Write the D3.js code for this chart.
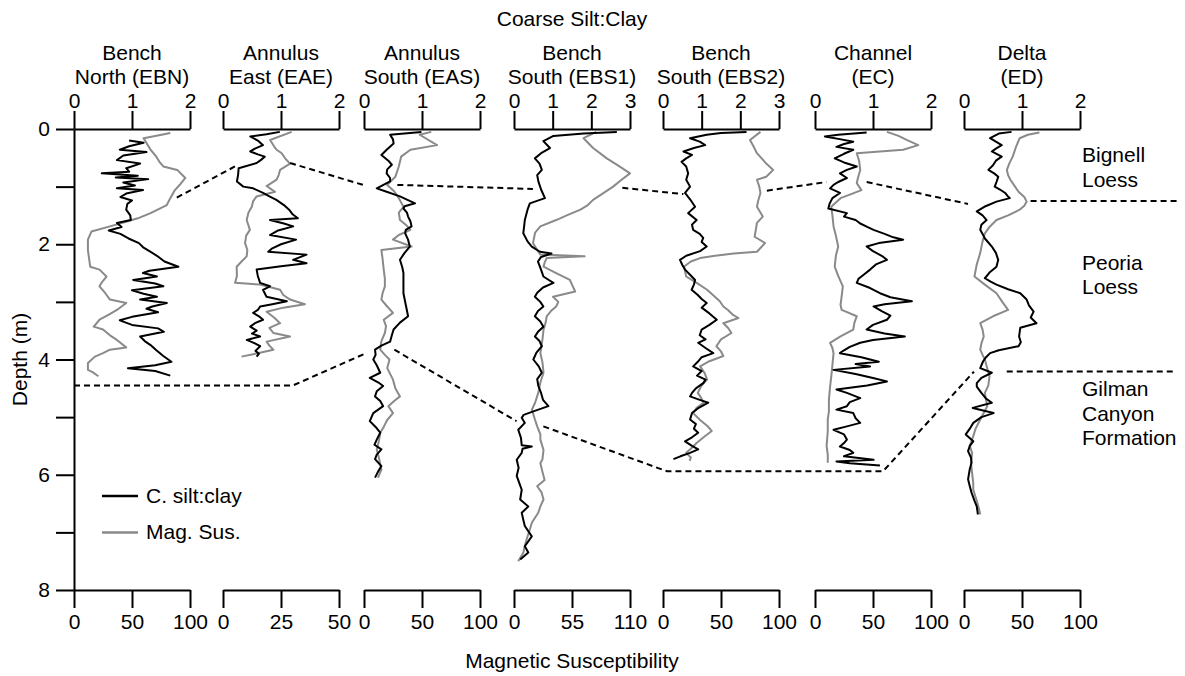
<!DOCTYPE html>
<html>
<head>
<meta charset="utf-8">
<script src="https://cdn.jsdelivr.net/npm/d3@7"></script>
<style>
  body { margin: 0; background: #fff; }
  text { font-family: "Liberation Sans", Arial, sans-serif; }
</style>
</head>
<body>
<svg width="1185" height="676"></svg>
<script>
// core titles, scale limits and tick values for each column
const coreTitles = [["Bench", "North (EBN)"], ["Annulus", "East (EAE)"], ["Annulus", "South (EAS)"],
  ["Bench", "South (EBS1)"], ["Bench", "South (EBS2)"], ["Channel", "(EC)"], ["Delta", "(ED)"]];
const siltMax = [2, 2, 2, 3, 3, 2, 2];
const siltTicks = [[0, 1, 2], [0, 1, 2], [0, 1, 2], [0, 1, 2, 3], [0, 1, 2, 3], [0, 1, 2], [0, 1, 2]];
const magMax = [100, 50, 100, 110, 100, 100, 100];
const magTicks = [[0, 50, 100], [0, 25, 50], [0, 50, 100], [0, 55, 110], [0, 50, 100], [0, 50, 100], [0, 50, 100]];
const depthTicks = [0, 1, 2, 3, 4, 5, 6, 7, 8];

// [depth (m), coarse silt:clay]
const ebnSilt = [[0.20,0.95],[0.24,1.20],[0.30,0.95],[0.36,0.79],[0.40,1.25],[0.46,0.85],[0.54,0.74],[0.60,1.14],[0.68,0.90],[0.74,0.95],[0.77,0.48],[0.81,1.10],[0.84,0.72],[0.87,1.28],[0.93,0.85],[0.98,1.05],[1.03,0.74],[1.06,1.19],[1.12,0.90],[1.18,0.80],[1.24,1.00],[1.30,0.92],[1.40,0.90],[1.50,0.97],[1.58,0.98],[1.63,0.74],[1.70,0.82],[1.76,0.60],[1.82,0.80],[1.90,0.94],[1.98,1.12],[2.06,1.20],[2.12,1.30],[2.20,1.43],[2.30,1.56],[2.39,1.80],[2.46,1.30],[2.50,1.19],[2.56,1.43],[2.62,1.02],[2.68,1.40],[2.73,1.54],[2.80,1.00],[2.86,1.20],[2.91,1.43],[2.96,1.14],[3.02,1.60],[3.08,1.35],[3.12,1.25],[3.18,1.45],[3.26,1.00],[3.32,0.79],[3.40,1.00],[3.46,1.45],[3.52,1.55],[3.60,1.14],[3.68,1.22],[3.75,1.32],[3.84,1.42],[3.94,1.54],[4.04,1.68],[4.10,1.40],[4.15,0.93],[4.20,1.40],[4.28,1.66]];
const eaeSilt = [[0.05,0.98],[0.09,0.75],[0.13,0.47],[0.20,0.60],[0.28,0.69],[0.34,0.55],[0.39,0.47],[0.44,0.60],[0.48,0.72],[0.54,0.65],[0.59,0.58],[0.68,0.27],[0.80,0.26],[0.91,0.24],[1.00,0.35],[1.03,0.52],[1.11,0.69],[1.17,0.80],[1.23,0.92],[1.32,1.05],[1.40,1.14],[1.48,1.20],[1.55,1.29],[1.58,0.81],[1.64,1.05],[1.69,1.21],[1.76,0.95],[1.84,0.81],[1.92,1.26],[2.00,1.00],[2.07,0.85],[2.13,0.78],[2.18,1.44],[2.27,1.21],[2.33,1.44],[2.38,1.00],[2.44,0.58],[2.55,0.60],[2.67,0.64],[2.73,0.81],[2.79,0.69],[2.85,0.72],[2.91,0.75],[2.99,1.10],[3.04,0.85],[3.08,0.64],[3.14,0.60],[3.19,0.52],[3.25,0.62],[3.31,0.69],[3.37,0.55],[3.43,0.47],[3.50,0.58],[3.55,0.50],[3.60,0.64],[3.66,0.41],[3.72,0.55],[3.77,0.64],[3.85,0.56],[3.90,0.62],[3.95,0.58]];
const easSilt = [[0.05,0.99],[0.10,0.45],[0.18,0.50],[0.25,0.51],[0.35,0.40],[0.45,0.30],[0.55,0.42],[0.62,0.48],[0.70,0.40],[0.77,0.39],[0.85,0.45],[0.91,0.45],[1.03,0.22],[1.09,0.39],[1.17,0.62],[1.23,0.75],[1.29,0.88],[1.34,0.70],[1.38,0.68],[1.45,0.74],[1.52,0.76],[1.60,0.80],[1.69,0.82],[1.75,0.72],[1.81,0.71],[1.92,0.76],[2.04,0.79],[2.15,0.70],[2.27,0.62],[2.40,0.66],[2.50,0.68],[2.70,0.68],[2.85,0.68],[3.05,0.72],[3.25,0.76],[3.36,0.62],[3.48,0.51],[3.58,0.48],[3.69,0.45],[3.76,0.30],[3.83,0.19],[3.92,0.20],[4.00,0.16],[4.10,0.22],[4.23,0.28],[4.32,0.10],[4.40,0.25],[4.46,0.33],[4.55,0.22],[4.64,0.19],[4.72,0.28],[4.81,0.33],[4.93,0.16],[5.07,0.10],[5.17,0.20],[5.27,0.28],[5.39,0.22],[5.48,0.18],[5.56,0.30],[5.65,0.22],[5.73,0.19],[5.85,0.30],[5.95,0.24],[6.05,0.19]];
const ebs1Silt = [[0.05,2.66],[0.08,1.80],[0.12,1.02],[0.21,0.76],[0.33,0.93],[0.42,0.70],[0.51,0.54],[0.60,0.66],[0.71,0.72],[0.80,0.60],[0.91,0.63],[1.05,0.70],[1.20,0.80],[1.29,0.41],[1.40,0.35],[1.58,0.28],[1.70,0.26],[1.81,0.24],[1.95,0.35],[2.04,0.46],[2.13,0.67],[2.16,0.97],[2.22,0.70],[2.30,0.62],[2.39,0.67],[2.48,0.72],[2.56,0.76],[2.62,0.90],[2.67,1.02],[2.75,0.75],[2.84,0.60],[2.91,0.54],[3.00,0.68],[3.08,0.76],[3.16,0.62],[3.25,0.54],[3.34,0.68],[3.43,0.76],[3.52,0.62],[3.60,0.54],[3.68,0.66],[3.77,0.72],[3.88,0.58],[4.00,0.50],[4.12,0.64],[4.23,0.72],[4.34,0.60],[4.46,0.63],[4.58,0.70],[4.70,0.75],[4.81,0.89],[4.90,0.50],[4.96,0.25],[5.01,0.20],[5.10,0.28],[5.22,0.11],[5.36,0.18],[5.49,0.20],[5.51,0.46],[5.55,0.22],[5.62,0.20],[5.74,0.07],[5.88,0.12],[6.02,0.07],[6.15,0.14],[6.26,0.20],[6.43,0.16],[6.55,0.37],[6.66,0.20],[6.78,0.24],[6.89,0.28],[7.07,0.46],[7.24,0.28],[7.35,0.37],[7.47,0.16]];
const ebs2Silt = [[0.05,2.16],[0.07,1.50],[0.10,1.13],[0.16,0.70],[0.22,0.95],[0.28,1.09],[0.33,0.80],[0.39,0.53],[0.45,0.75],[0.51,0.60],[0.57,0.48],[0.65,0.60],[0.77,0.65],[0.88,0.60],[1.00,0.70],[1.11,0.57],[1.22,0.70],[1.35,0.83],[1.46,0.65],[1.58,0.87],[1.66,0.75],[1.75,0.78],[1.82,0.95],[1.89,1.04],[1.96,1.00],[2.04,1.13],[2.12,0.96],[2.20,0.60],[2.27,0.44],[2.36,0.50],[2.44,0.57],[2.53,0.70],[2.62,0.83],[2.70,0.80],[2.79,0.74],[2.88,0.90],[2.95,1.00],[3.02,1.13],[3.10,1.00],[3.20,1.20],[3.31,1.39],[3.40,1.20],[3.48,1.00],[3.58,0.95],[3.65,1.10],[3.71,0.91],[3.80,1.10],[3.89,1.30],[3.96,1.00],[4.04,0.90],[4.12,0.78],[4.20,1.00],[4.28,0.88],[4.35,1.10],[4.41,1.04],[4.50,0.85],[4.58,0.75],[4.64,0.70],[4.70,0.95],[4.75,1.17],[4.85,0.90],[4.93,0.75],[5.04,0.70],[5.12,0.85],[5.20,0.80],[5.27,0.91],[5.35,0.75],[5.42,0.57],[5.50,0.75],[5.56,0.91],[5.62,0.70],[5.68,0.45],[5.73,0.27]];
const ecSilt = [[0.06,0.89],[0.10,0.40],[0.13,0.17],[0.18,0.45],[0.22,0.66],[0.26,0.50],[0.31,0.37],[0.36,0.66],[0.43,0.50],[0.51,0.34],[0.58,0.50],[0.65,0.72],[0.71,0.55],[0.77,0.43],[0.85,0.55],[0.92,0.40],[0.97,0.32],[1.03,0.26],[1.11,0.43],[1.20,0.30],[1.30,0.25],[1.38,0.23],[1.46,0.55],[1.52,0.50],[1.58,0.70],[1.64,0.78],[1.70,0.90],[1.75,1.01],[1.82,1.20],[1.88,1.35],[1.92,1.52],[1.98,1.10],[2.04,0.89],[2.12,1.00],[2.20,1.15],[2.27,1.24],[2.35,1.05],[2.44,0.95],[2.52,0.85],[2.60,0.75],[2.67,0.72],[2.76,0.95],[2.85,1.12],[2.92,1.30],[2.99,1.67],[3.04,1.20],[3.08,1.01],[3.16,1.15],[3.24,1.30],[3.31,1.24],[3.40,1.00],[3.48,0.89],[3.55,1.20],[3.60,1.55],[3.66,1.00],[3.71,0.78],[3.78,0.60],[3.84,0.50],[3.89,0.43],[3.96,0.80],[4.04,1.10],[4.08,0.70],[4.12,0.95],[4.18,0.32],[4.25,0.70],[4.32,1.00],[4.38,1.24],[4.45,0.90],[4.52,0.37],[4.58,0.55],[4.67,0.78],[4.74,0.60],[4.81,0.55],[4.87,0.37],[4.93,0.66],[5.02,0.70],[5.10,0.78],[5.16,0.55],[5.22,0.32],[5.30,0.50],[5.39,0.55],[5.45,0.50],[5.51,0.43],[5.57,0.60],[5.62,0.66],[5.68,0.50],[5.74,1.01],[5.77,0.37],[5.80,0.60],[5.84,1.12]];
const edSilt = [[0.05,0.82],[0.08,0.60],[0.16,0.45],[0.22,0.55],[0.28,0.65],[0.34,0.55],[0.39,0.48],[0.48,0.65],[0.55,0.55],[0.63,0.50],[0.71,0.42],[0.77,0.52],[0.83,0.59],[0.92,0.56],[1.00,0.53],[1.05,0.62],[1.11,0.71],[1.16,0.75],[1.20,0.79],[1.26,0.56],[1.35,0.35],[1.43,0.22],[1.50,0.32],[1.58,0.39],[1.66,0.30],[1.75,0.28],[1.82,0.32],[1.90,0.36],[1.97,0.42],[2.04,0.48],[2.15,0.55],[2.27,0.59],[2.39,0.56],[2.48,0.45],[2.59,0.36],[2.65,0.46],[2.70,0.56],[2.78,0.76],[2.85,0.97],[2.96,1.08],[3.06,1.12],[3.17,1.20],[3.27,1.15],[3.37,1.25],[3.45,0.97],[3.60,0.95],[3.70,0.98],[3.77,0.94],[3.84,0.60],[3.89,0.45],[3.96,0.38],[4.03,0.33],[4.10,0.30],[4.15,0.28],[4.23,0.48],[4.32,0.30],[4.41,0.22],[4.47,0.22],[4.58,0.30],[4.68,0.38],[4.75,0.48],[4.84,0.15],[4.93,0.51],[5.00,0.30],[5.10,0.16],[5.20,0.10],[5.30,0.03],[5.42,0.16],[5.50,0.10],[5.59,0.07],[5.70,0.12],[5.79,0.13],[5.90,0.10],[6.08,0.07],[6.20,0.10],[6.31,0.13],[6.45,0.18],[6.55,0.22],[6.69,0.24]];

// [depth (m), magnetic susceptibility]
const ebnMag = [[0.07,83],[0.12,70],[0.16,60],[0.26,63],[0.36,66],[0.48,71],[0.58,74],[0.65,77],[0.71,89],[0.85,96],[0.95,92],[1.06,87],[1.20,83],[1.32,80],[1.46,66],[1.55,55],[1.61,45],[1.69,31],[1.78,15],[1.92,12],[2.10,12],[2.25,13],[2.39,14],[2.44,22],[2.56,28],[2.66,24],[2.73,22],[2.85,27],[2.96,31],[3.02,45],[3.14,37],[3.22,30],[3.31,22],[3.43,17],[3.48,25],[3.58,31],[3.66,37],[3.79,45],[3.83,31],[3.89,25],[3.95,18],[4.06,12],[4.18,12],[4.22,16],[4.29,21]];
const eaeMag = [[0.05,29.6],[0.19,20.3],[0.30,22],[0.36,23.1],[0.42,25.3],[0.52,27],[0.60,28.9],[0.71,24.6],[0.80,24],[0.88,23.1],[0.99,18.8],[1.09,22.4],[1.17,14.5],[1.25,13],[1.35,12.4],[1.45,11],[1.58,10.2],[1.75,11.6],[1.85,10],[1.98,9.5],[2.10,10.5],[2.21,10.2],[2.30,8],[2.39,5.9],[2.55,6],[2.67,5.2],[2.70,15.9],[2.79,24.6],[2.88,26],[2.96,28.9],[3.04,35.3],[3.10,26],[3.17,18.8],[3.27,22],[3.37,24.6],[3.45,20],[3.54,21.7],[3.60,28.9],[3.69,18.8],[3.76,20],[3.83,21.7],[3.90,14],[3.95,8.0]];
const easMag = [[0.05,58],[0.10,48],[0.28,63],[0.36,40],[0.48,32],[0.65,30],[0.83,27],[0.97,20],[1.08,26],[1.20,30],[1.35,34],[1.45,30],[1.58,31],[1.66,36],[1.75,40],[1.84,30],[1.92,25],[2.04,41],[2.10,15],[2.25,16],[2.44,17],[2.60,18],[2.73,18],[2.85,16],[2.96,15],[3.08,20],[3.19,25],[3.31,17],[3.42,19],[3.54,18],[3.68,15],[3.83,14],[3.92,18],[4.00,22],[4.15,20],[4.35,25],[4.50,27],[4.64,31],[4.72,26],[4.81,21],[4.93,25],[5.05,20],[5.17,17],[5.27,14],[5.40,13],[5.56,11],[5.72,13],[5.91,15],[6.05,12]];
const ebs1Mag = [[0.05,78],[0.16,66],[0.33,75],[0.51,88],[0.65,100],[0.77,110],[0.88,102],[1.00,94],[1.12,84],[1.23,75],[1.32,70],[1.40,63],[1.50,50],[1.58,40],[1.69,25],[1.80,20],[1.98,18],[2.10,22],[2.18,25],[2.21,67],[2.24,31],[2.32,29],[2.39,28],[2.50,40],[2.62,53],[2.70,55],[2.82,58],[2.91,37],[3.00,42],[3.08,40],[3.16,35],[3.25,31],[3.36,30],[3.48,28],[3.65,27],[3.89,25],[4.05,27],[4.23,28],[4.40,25],[4.58,23],[4.75,20],[4.87,17],[4.93,18],[5.05,20],[5.16,22],[5.30,25],[5.39,25],[5.57,28],[5.73,27],[5.80,25],[5.95,27],[6.09,29],[6.20,22],[6.30,26],[6.43,28],[6.55,25],[6.66,23],[6.83,17],[6.95,15],[7.12,12],[7.25,10],[7.35,9],[7.50,4]];
const ebs2Mag = [[0.05,84],[0.19,75],[0.30,78],[0.42,81],[0.60,89],[0.71,95],[0.83,89],[0.88,81],[1.00,83],[1.11,84],[1.25,82],[1.35,81],[1.45,84],[1.52,86],[1.63,81],[1.75,80],[1.87,79],[1.98,88],[2.13,81],[2.16,61],[2.20,45],[2.24,32],[2.30,24],[2.39,18],[2.47,19],[2.56,20],[2.67,29],[2.79,38],[2.90,44],[2.99,49],[3.08,52],[3.14,56],[3.22,60],[3.28,65],[3.37,52],[3.45,56],[3.54,59],[3.65,50],[3.77,46],[3.86,50],[3.94,52],[4.03,40],[4.12,32],[4.24,36],[4.35,38],[4.46,33],[4.58,30],[4.67,33],[4.75,35],[4.84,29],[4.93,26],[5.05,32],[5.15,38],[5.24,42],[5.35,35],[5.45,29],[5.55,24],[5.62,20],[5.70,24],[5.76,23]];
const ecMag = [[0.05,62],[0.12,72],[0.19,79],[0.28,89],[0.36,76],[0.42,36],[0.55,38],[0.71,39],[0.85,37],[0.94,36],[1.06,40],[1.14,30],[1.20,22],[1.35,14],[1.50,15],[1.69,16],[1.85,18],[2.04,20],[2.20,18],[2.39,17],[2.55,20],[2.73,24],[2.90,23],[3.05,22],[3.14,23],[3.25,36],[3.36,34],[3.48,33],[3.60,22],[3.71,13],[3.80,15],[3.89,16],[4.10,15],[4.30,14],[4.47,13],[4.70,12],[4.90,12],[5.04,11],[5.25,11],[5.50,10],[5.65,11],[5.79,11]];
const edMag = [[0.06,65],[0.10,55],[0.16,48],[0.30,45],[0.48,42],[0.60,39],[0.71,37],[0.80,38],[0.88,40],[1.00,44],[1.09,47],[1.18,52],[1.26,54],[1.33,52],[1.40,48],[1.50,38],[1.58,28],[1.70,22],[1.81,18],[1.95,16],[2.15,14],[2.35,11],[2.56,9],[2.70,18],[2.85,28],[3.00,33],[3.14,38],[3.25,25],[3.37,14],[3.48,16],[3.60,17],[3.72,15],[3.83,14],[3.92,16],[4.00,18],[4.15,20],[4.29,22],[4.45,21],[4.58,18],[4.70,19],[4.81,20],[4.93,17],[5.04,14],[5.20,10],[5.33,8],[5.50,5],[5.62,7],[5.80,6],[5.97,7],[6.15,8],[6.26,8],[6.45,11],[6.60,13],[6.69,14]];

// unit boundaries: [track position (column units), depth (m)], one array per dashed piece
const bignellBase = [
  [[0.69,1.19],[1.08,0.65]], [[1.45,0.59],[1.94,0.97]], [[2.17,0.97],[3.08,1.04]],
  [[3.68,1.02],[4.09,1.13]], [[4.65,1.07],[5.05,0.92]], [[5.32,0.92],[6.00,1.30]], [[6.42,1.25],[7.41,1.25]]
];
const peoriaBase = [
  [[0.00,4.45],[1.47,4.45],[1.96,3.89]], [[2.15,3.83],[2.97,5.07]],
  [[3.15,5.16],[3.98,5.94],[5.43,5.94],[6.04,4.21]], [[6.26,4.21],[7.38,4.21]]
];
const unitLabels = [
  { lines: ["Bignell", "Loess"], depth: 0.58 },
  { lines: ["Peoria", "Loess"], depth: 2.44 },
  { lines: ["Gilman", "Canyon", "Formation"], depth: 4.64 }
];

const siltSeries = [ebnSilt, eaeSilt, easSilt, ebs1Silt, ebs2Silt, ecSilt, edSilt];
const magSeries = [ebnMag, eaeMag, easMag, ebs1Mag, ebs2Mag, ecMag, edMag];

const svg = d3.select('svg');
const font = 21;
const panelLeft = [74, 223, 364, 514, 663, 815, 964];
const panelWidth = 116;

const y = d3.scaleLinear().domain([0, 8]).range([129, 590]);
const track = d3.scaleLinear().domain([0, 7]).range([74, 74 + 7 * 149]);

const styleAxis = g => {
  g.attr('font-size', font).attr('font-family', '"Liberation Sans", Arial, sans-serif');
  g.selectAll('path, line').attr('stroke', '#000').attr('stroke-width', 2);
  g.selectAll('text').attr('fill', '#000');
};

// depth axis
svg.append('g')
  .attr('transform', `translate(${panelLeft[0]},0)`)
  .call(d3.axisLeft(y).tickValues(depthTicks).tickFormat(d => d % 2 === 0 ? d : '')
    .tickSize(18).tickSizeOuter(0).tickPadding(6))
  .call(styleAxis);

svg.append('text')
  .attr('transform', `translate(27,${y(4)}) rotate(-90)`)
  .attr('text-anchor', 'middle')
  .attr('font-size', font)
  .text('Depth (m)');

coreTitles.forEach((title, i) => {
  const L = panelLeft[i];
  const xs = d3.scaleLinear().domain([0, siltMax[i]]).range([L, L + panelWidth]);
  const xm = d3.scaleLinear().domain([0, magMax[i]]).range([L, L + panelWidth]);

  svg.append('g')
    .attr('transform', `translate(0,${y(0)})`)
    .call(d3.axisTop(xs).tickValues(siltTicks[i]).tickFormat(d3.format('d'))
      .tickSize(18).tickSizeOuter(0).tickPadding(3))
    .call(styleAxis);

  svg.append('g')
    .attr('transform', `translate(0,${y(8)})`)
    .call(d3.axisBottom(xm).tickValues(magTicks[i]).tickFormat(d3.format('d'))
      .tickSize(18).tickSizeOuter(0).tickPadding(6))
    .call(styleAxis);

  const t = svg.append('text')
    .attr('text-anchor', 'middle')
    .attr('font-size', font);
  title.forEach((line, k) => {
    t.append('tspan').attr('x', L + panelWidth / 2).attr('y', 60 + k * 24).text(line);
  });

  svg.append('path')
    .datum(magSeries[i])
    .attr('fill', 'none')
    .attr('stroke', '#8a8a8a')
    .attr('stroke-width', 2)
    .attr('stroke-linejoin', 'round')
    .attr('d', d3.line().x(d => xm(d[1])).y(d => y(d[0])));

  svg.append('path')
    .datum(siltSeries[i])
    .attr('fill', 'none')
    .attr('stroke', '#000')
    .attr('stroke-width', 2)
    .attr('stroke-linejoin', 'round')
    .attr('d', d3.line().x(d => xs(d[1])).y(d => y(d[0])));
});

// dashed unit boundaries
const boundaryLine = d3.line().x(d => track(d[0])).y(d => y(d[1]));
[...bignellBase, ...peoriaBase].forEach(piece => {
  svg.append('path')
    .datum(piece)
    .attr('fill', 'none')
    .attr('stroke', '#000')
    .attr('stroke-width', 2)
    .attr('stroke-dasharray', '6,4')
    .attr('d', boundaryLine);
});

unitLabels.forEach(u => {
  const t = svg.append('text').attr('font-size', font);
  u.lines.forEach((line, k) => {
    t.append('tspan').attr('x', 1082).attr('y', y(u.depth) + k * 24.5).text(line);
  });
});

svg.append('text')
  .attr('x', 572).attr('y', 26)
  .attr('text-anchor', 'middle')
  .attr('font-size', font)
  .text('Coarse Silt:Clay');

svg.append('text')
  .attr('x', 572).attr('y', 668)
  .attr('text-anchor', 'middle')
  .attr('font-size', font)
  .text('Magnetic Susceptibility');

// legend
const legend = [{ label: 'C. silt:clay', color: '#000', depth: 6.37 }, { label: 'Mag. Sus.', color: '#8a8a8a', depth: 7.0 }];
legend.forEach(l => {
  svg.append('line')
    .attr('x1', 102).attr('x2', 138)
    .attr('y1', y(l.depth)).attr('y2', y(l.depth))
    .attr('stroke', l.color).attr('stroke-width', 2.5);
  svg.append('text')
    .attr('x', 146).attr('y', y(l.depth) + 7)
    .attr('font-size', font)
    .text(l.label);
});
</script>
</body>
</html>
